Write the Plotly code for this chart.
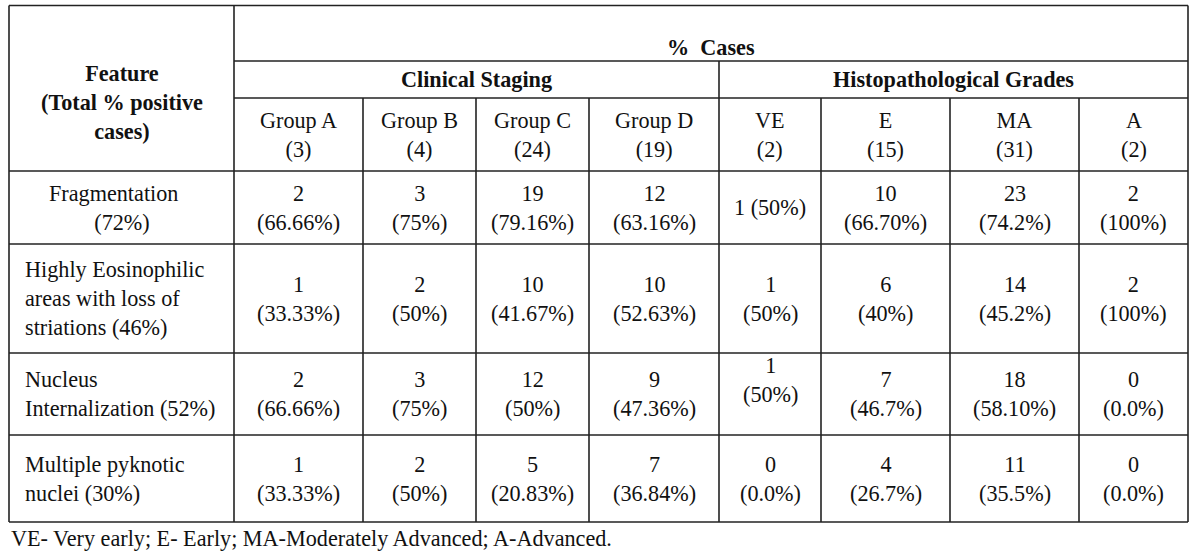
import plotly.graph_objects as go

# ---------------- data ----------------
feature_names = ["Fragmentation", "Highly Eosinophilic<br>areas with loss of<br>striations", "Nucleus<br>Internalization", "Multiple pyknotic<br>nuclei"]
feature_total_pct = ["72%", "46%", "52%", "30%"]
staging_groups = ["Group A", "Group B", "Group C", "Group D"]
staging_n = [3, 4, 24, 19]
grade_groups = ["VE", "E", "MA", "A"]
grade_n = [2, 15, 31, 2]
counts = [
    [2, 3, 19, 12, 1, 10, 23, 2],
    [1, 2, 10, 10, 1, 6, 14, 2],
    [2, 3, 12, 9, 1, 7, 18, 0],
    [1, 2, 5, 7, 0, 4, 11, 0],
]
pcts = [
    ["66.66%", "75%", "79.16%", "63.16%", "50%", "66.70%", "74.2%", "100%"],
    ["33.33%", "50%", "41.67%", "52.63%", "50%", "40%", "45.2%", "100%"],
    ["66.66%", "75%", "50%", "47.36%", "50%", "46.7%", "58.10%", "0.0%"],
    ["33.33%", "50%", "20.83%", "36.84%", "0.0%", "26.7%", "35.5%", "0.0%"],
]
header_top = "%\u00a0 Cases"
header_groups = ["Clinical Staging", "Histopathological Grades"]
feature_header = "Feature<br>(Total % positive<br>cases)"
footnote = "VE- Very early; E- Early; MA-Moderately Advanced; A-Advanced."

# ---------------- layout geometry ----------------
W, H = 1200, 551
col_edges = [9, 234, 363, 476, 589, 719, 821, 950, 1079, 1188]
row_edges = [5.5, 61, 98, 171, 244, 353, 435, 522]
FONT = "Liberation Serif, Times New Roman, serif"
FS = 22.2
TXT = "#111111"
LINE = dict(color="#222222", width=1.6)

fig = go.Figure()
fig.add_trace(go.Scatter(x=[0, W], y=[0, H], mode="markers", marker=dict(opacity=0), hoverinfo="skip", showlegend=False))


def hline(y, x0, x1):
    fig.add_shape(type="line", x0=x0, x1=x1, y0=y, y1=y, xref="x", yref="y", line=LINE)


def vline(x, y0, y1):
    fig.add_shape(type="line", x0=x, x1=x, y0=y0, y1=y1, xref="x", yref="y", line=LINE)


def ann(text, x, y, bold=False, xanchor="center", align="center"):
    if bold:
        text = "<b>" + text.replace("<br>", "</b><br><b>") + "</b>"
    fig.add_annotation(text=text, x=x, y=y, xref="x", yref="y", showarrow=False,
                       xanchor=xanchor, yanchor="middle", align=align,
                       font=dict(family=FONT, size=FS, color=TXT))


# grid lines
left, right = col_edges[0], col_edges[-1]
hline(row_edges[0], left, right)
hline(row_edges[1], col_edges[1], right)
hline(row_edges[2], col_edges[1], right)
for y in row_edges[3:]:
    hline(y, left, right)
vline(left, row_edges[0], row_edges[-1])
vline(right, row_edges[0], row_edges[-1])
vline(col_edges[1], row_edges[0], row_edges[-1])
vline(col_edges[5], row_edges[1], row_edges[-1])
for i in [2, 3, 4, 6, 7, 8]:
    vline(col_edges[i], row_edges[2], row_edges[-1])

def cx(i):
    return (col_edges[i] + col_edges[i + 1]) / 2

def cy(j):
    return (row_edges[j] + row_edges[j + 1]) / 2

# headers
ann("\u00a0<br>" + feature_header, cx(0), (row_edges[0] + row_edges[3]) / 2, bold=True)
ann("\u00a0<br>" + header_top, (col_edges[1] + right) / 2, cy(0), bold=True)
ann(header_groups[0], (col_edges[1] + col_edges[5]) / 2, cy(1), bold=True)
ann(header_groups[1], (col_edges[5] + right) / 2, cy(1), bold=True)
sub_labels = staging_groups + grade_groups
sub_n = staging_n + grade_n
for k, (lab, n) in enumerate(zip(sub_labels, sub_n)):
    ann(f"{lab}<br>({n})", cx(k + 1), cy(2))

# body
for r in range(len(feature_names)):
    label = f"{feature_names[r]} ({feature_total_pct[r]})"
    if r == 0:
        ann(f"{feature_names[r]}\u00a0\u00a0\u00a0<br>({feature_total_pct[r]})", cx(0), cy(3 + r))
    else:
        ann(label, col_edges[0] + 14, cy(3 + r), xanchor="left", align="left")
    for c in range(8):
        txt = f"{counts[r][c]}<br>({pcts[r][c]})"
        if r == 0 and c == 4:
            txt = f"{counts[r][c]} ({pcts[r][c]})"
        if r == 2 and c == 4:
            txt = txt + "<br>\u00a0"
        ann(txt, cx(c + 1), cy(3 + r))

# footnote
ann(footnote, col_edges[0], row_edges[-1] + 16, xanchor="left", align="left")

fig.update_xaxes(range=[0, W], visible=False, fixedrange=True)
fig.update_yaxes(range=[H, 0], visible=False, fixedrange=True)
fig.update_layout(width=W, height=H, margin=dict(l=0, r=0, t=0, b=0),
                  paper_bgcolor="white", plot_bgcolor="white", showlegend=False)
fig.write_html("out.html", config={"displayModeBar": False},
               post_script="document.body.style.margin='0';document.body.style.overflow='hidden';")
